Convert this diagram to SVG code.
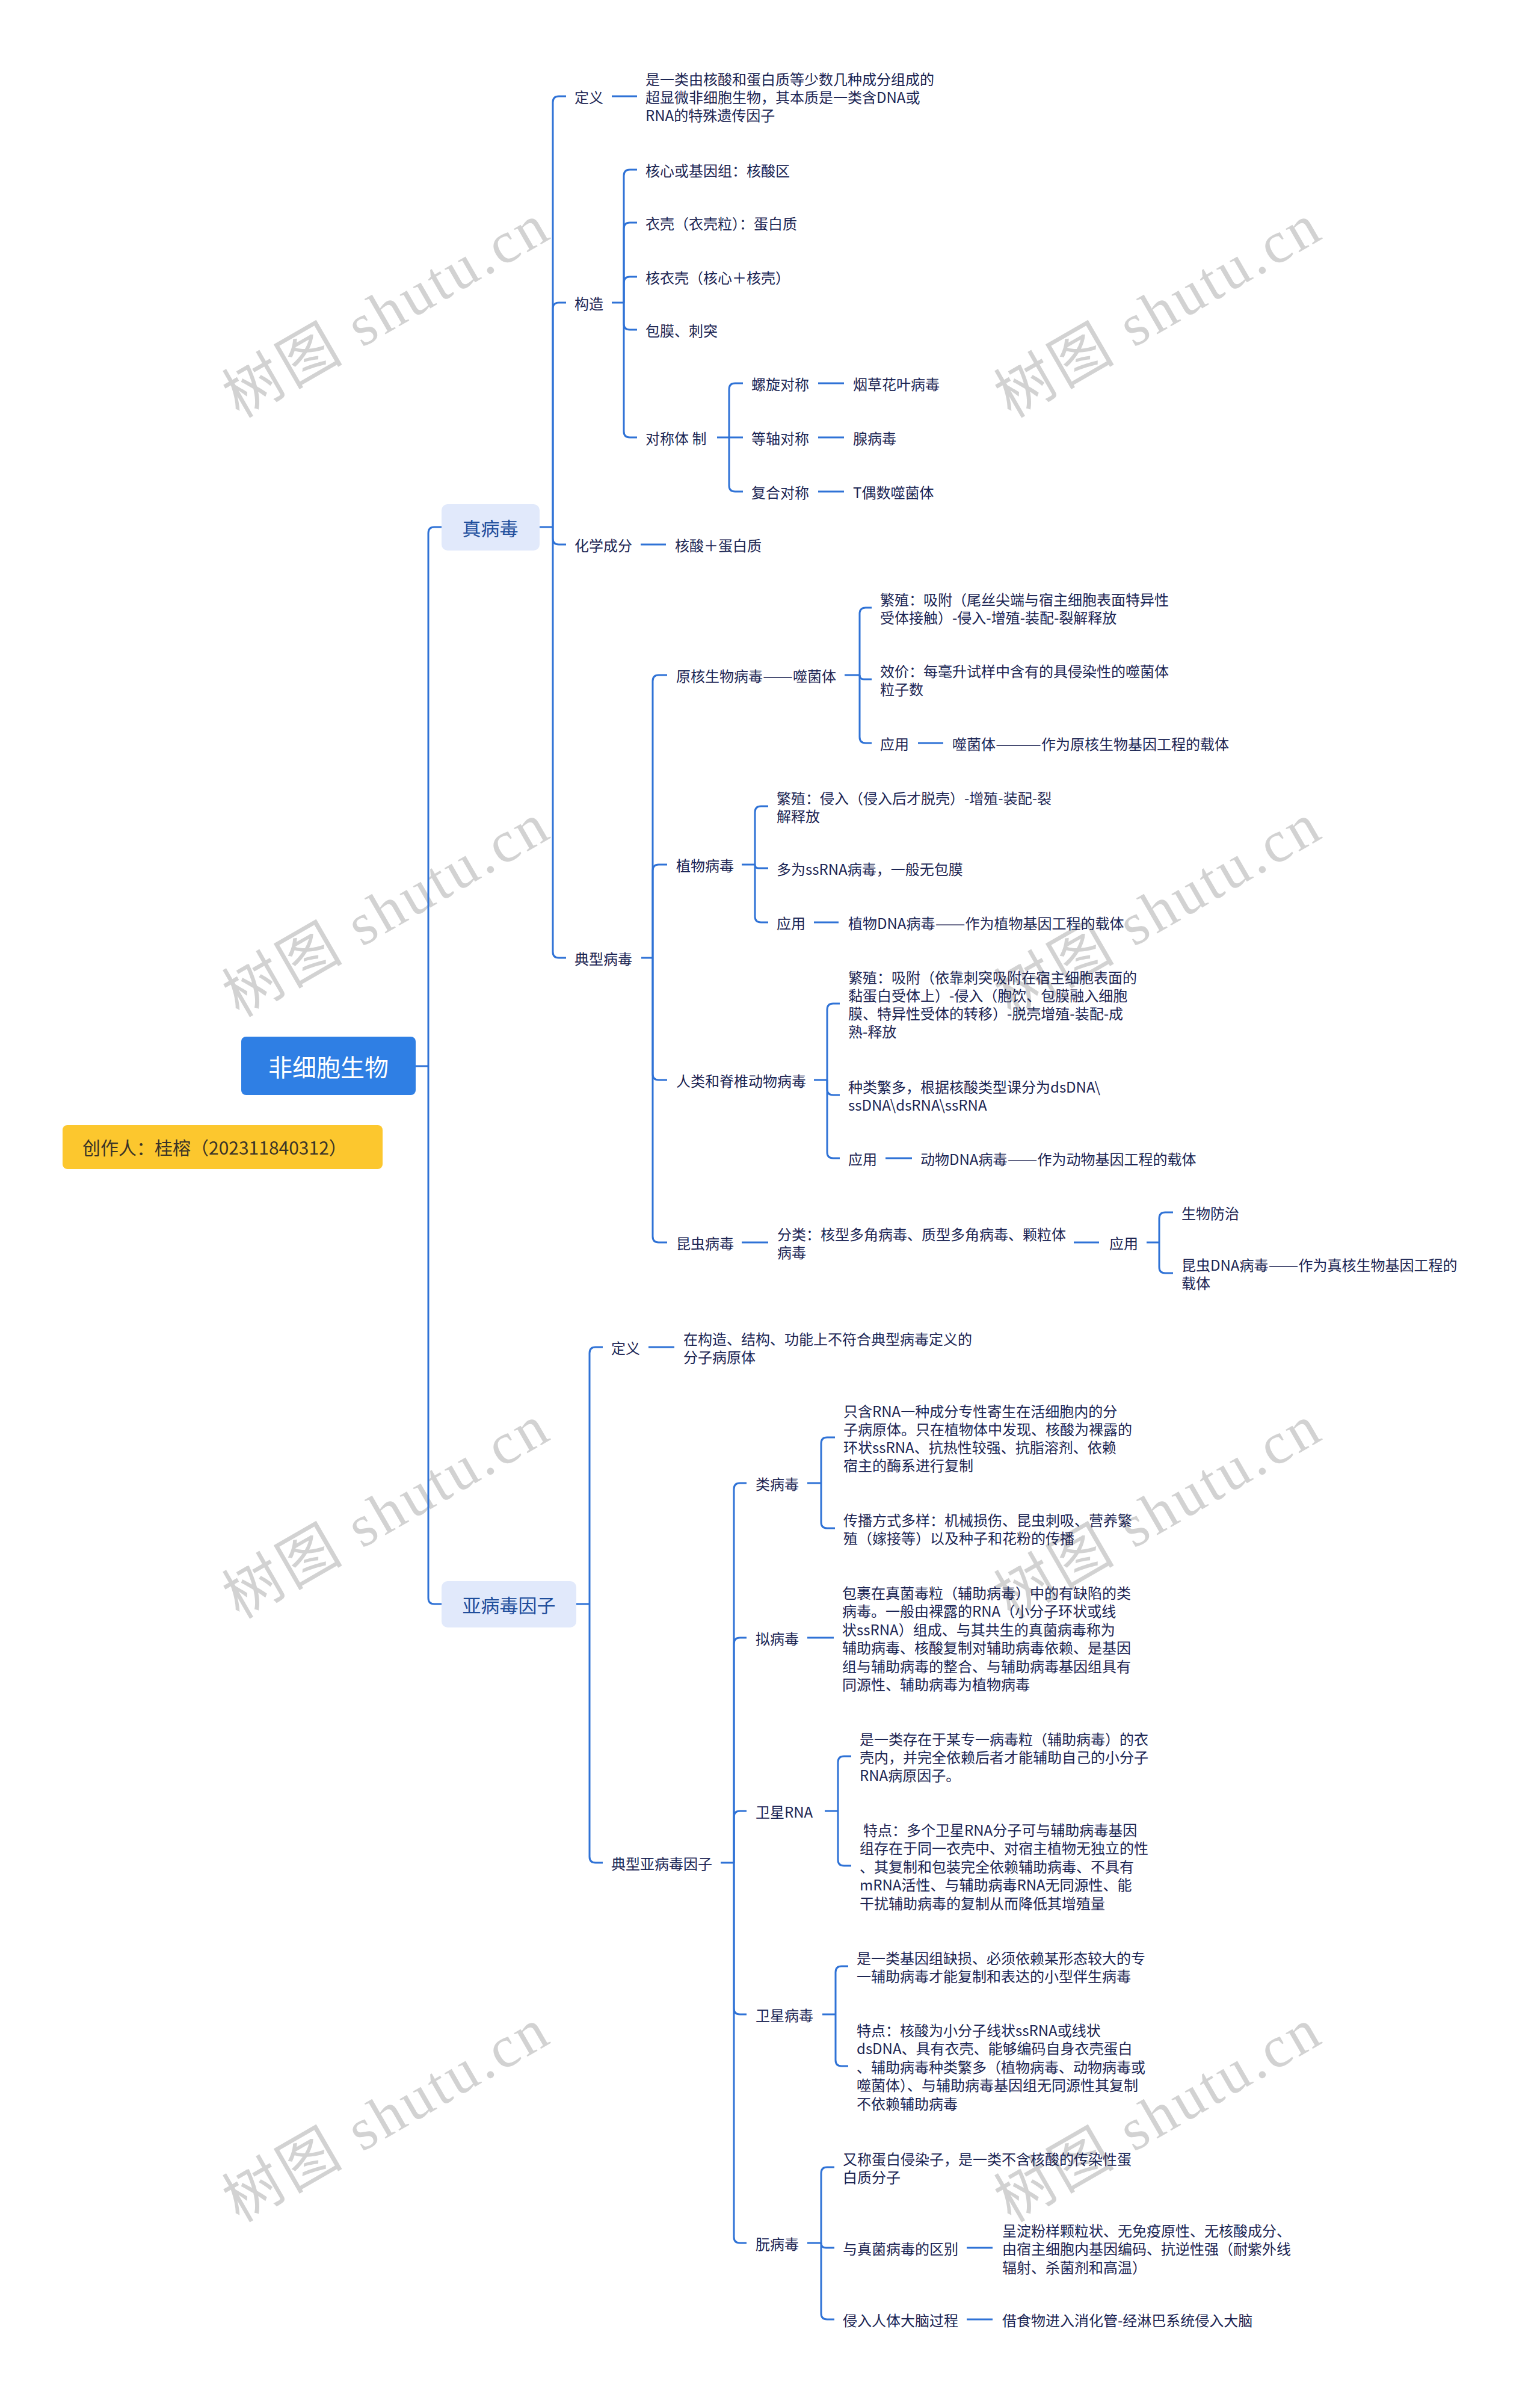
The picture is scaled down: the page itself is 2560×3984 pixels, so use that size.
<svg xmlns="http://www.w3.org/2000/svg" width="2560" height="3984" viewBox="0 0 2560 3984">
<style>
.t{font-family:"Noto Sans CJK SC","Noto Sans",sans-serif;font-size:24px;fill:#1b2553;dominant-baseline:central}
.c{fill:none;stroke:#2f72d6;stroke-width:3}
.wm{font-family:"Liberation Serif","Noto Sans CJK SC",serif;font-size:98px;fill:#d2d2d2;letter-spacing:5px;text-anchor:middle;dominant-baseline:central}
.l1{fill:#e1e9fb}
.l1t{font-family:"Noto Sans CJK SC",sans-serif;font-size:31px;fill:#1f4e9c;text-anchor:middle;dominant-baseline:central}
</style>
<rect width="2560" height="3984" fill="#ffffff"/>
<g id="watermarks">
<text class="wm" x="643" y="516" transform="rotate(-30 643 516)">树图 shutu.cn</text>
<text class="wm" x="1926" y="516" transform="rotate(-30 1926 516)">树图 shutu.cn</text>
<text class="wm" x="643" y="1512" transform="rotate(-30 643 1512)">树图 shutu.cn</text>
<text class="wm" x="1926" y="1512" transform="rotate(-30 1926 1512)">树图 shutu.cn</text>
<text class="wm" x="643" y="2512" transform="rotate(-30 643 2512)">树图 shutu.cn</text>
<text class="wm" x="1926" y="2512" transform="rotate(-30 1926 2512)">树图 shutu.cn</text>
<text class="wm" x="643" y="3515" transform="rotate(-30 643 3515)">树图 shutu.cn</text>
<text class="wm" x="1926" y="3515" transform="rotate(-30 1926 3515)">树图 shutu.cn</text>
</g>
<g id="connectors" class="c">
<path d="M691,1772H712"/>
<path d="M712,1772V886Q712,876 722,876H734"/>
<path d="M712,1772V2656Q712,2666 722,2666H734"/>
<path d="M897,876H919"/>
<path d="M919,876V170Q919,160 929,160H941"/>
<path d="M919,876V513Q919,503 929,503H941"/>
<path d="M919,876V895Q919,905 929,905H941"/>
<path d="M919,876V1582Q919,1592 929,1592H941"/>
<path d="M1017,160H1059"/>
<path d="M1017,503H1037"/>
<path d="M1037,503V292Q1037,282 1047,282H1059"/>
<path d="M1037,503V380Q1037,370 1047,370H1059"/>
<path d="M1037,503V470Q1037,460 1047,460H1059"/>
<path d="M1037,503V538Q1037,548 1047,548H1059"/>
<path d="M1037,503V717Q1037,727 1047,727H1059"/>
<path d="M1192,727H1212"/>
<path d="M1212,727V647Q1212,637 1222,637H1235"/>
<path d="M1212,727H1235"/>
<path d="M1212,727V807Q1212,817 1222,817H1235"/>
<path d="M1360,637H1403"/>
<path d="M1360,727H1403"/>
<path d="M1360,817H1403"/>
<path d="M1065,905H1107"/>
<path d="M1066,1592H1085"/>
<path d="M1085,1592V1132Q1085,1122 1095,1122H1109"/>
<path d="M1085,1592V1447Q1085,1437 1095,1437H1109"/>
<path d="M1085,1592V1785Q1085,1795 1095,1795H1109"/>
<path d="M1085,1592V2055Q1085,2065 1095,2065H1109"/>
<path d="M1404,1122H1429"/>
<path d="M1429,1122V1020Q1429,1010 1439,1010H1449"/>
<path d="M1429,1122Q1429,1129 1436,1129H1449"/>
<path d="M1429,1122V1225Q1429,1235 1439,1235H1449"/>
<path d="M1526,1235H1568"/>
<path d="M1233,1437H1255"/>
<path d="M1255,1437V1350Q1255,1340 1265,1340H1277"/>
<path d="M1255,1437Q1255,1443 1261,1443H1277"/>
<path d="M1255,1437V1523Q1255,1533 1265,1533H1277"/>
<path d="M1353,1533H1394"/>
<path d="M1353,1795H1375"/>
<path d="M1375,1795V1678Q1375,1668 1385,1668H1396"/>
<path d="M1375,1795V1810Q1375,1820 1385,1820H1396"/>
<path d="M1375,1795V1915Q1375,1925 1385,1925H1396"/>
<path d="M1472,1925H1516"/>
<path d="M1233,2065H1277"/>
<path d="M1785,2065H1827"/>
<path d="M1906,2065H1927"/>
<path d="M1927,2065V2025Q1927,2015 1937,2015H1950"/>
<path d="M1927,2065V2106Q1927,2116 1937,2116H1950"/>
<path d="M958,2666H980"/>
<path d="M980,2666V2249Q980,2239 990,2239H1002"/>
<path d="M980,2666V3086Q980,3096 990,3096H1002"/>
<path d="M1078,2239H1121"/>
<path d="M1198,3096H1220"/>
<path d="M1220,3096V2475Q1220,2465 1230,2465H1241"/>
<path d="M1220,3096V2732Q1220,2722 1230,2722H1241"/>
<path d="M1220,3096V3020Q1220,3010 1230,3010H1241"/>
<path d="M1220,3096V3338Q1220,3348 1230,3348H1241"/>
<path d="M1220,3096V3718Q1220,3728 1230,3728H1241"/>
<path d="M1342,2465H1365"/>
<path d="M1365,2465V2399Q1365,2389 1375,2389H1388"/>
<path d="M1365,2465V2530Q1365,2540 1375,2540H1388"/>
<path d="M1342,2722H1386"/>
<path d="M1371,3010H1393"/>
<path d="M1393,3010V2929Q1393,2919 1403,2919H1415"/>
<path d="M1393,3010V3091Q1393,3101 1403,3101H1415"/>
<path d="M1367,3348H1389"/>
<path d="M1389,3348V3278Q1389,3268 1399,3268H1410"/>
<path d="M1389,3348V3424Q1389,3434 1399,3434H1410"/>
<path d="M1342,3728H1365"/>
<path d="M1365,3728V3612Q1365,3602 1375,3602H1387"/>
<path d="M1365,3728Q1365,3736 1373,3736H1387"/>
<path d="M1365,3728V3845Q1365,3855 1375,3855H1387"/>
<path d="M1607,3736H1650"/>
<path d="M1607,3855H1650"/>
</g>
<g id="n-root"><rect x="401" y="1723" width="290" height="97" rx="8" fill="#2f7fe4"/><text x="546" y="1772" font-family="'Noto Sans CJK SC',sans-serif" font-size="40" fill="#ffffff" text-anchor="middle" dominant-baseline="central">非细胞生物</text></g>
<g id="n-creator"><rect x="104" y="1870" width="532" height="73" rx="8" fill="#fcc72e"/><text x="137" y="1906" font-family="'Noto Sans CJK SC',sans-serif" font-size="30" fill="#3a3327" dominant-baseline="central">创作人：桂榕（202311840312）</text></g>
<g id="n-zbd"><rect class="l1" x="734" y="838" width="163" height="77" rx="10"/><text class="l1t" x="815" y="876">真病毒</text></g>
<g id="n-ybd"><rect class="l1" x="734" y="2628" width="224" height="77" rx="10"/><text class="l1t" x="846" y="2666">亚病毒因子</text></g>
<g id="n-dy1"><text class="t" x="955" y="160">定义</text></g>
<g id="n-dy1c"><text class="t"><tspan x="1073" y="130">是一类由核酸和蛋白质等少数几种成分组成的</tspan><tspan x="1073" y="160">超显微非细胞生物，其本质是一类含DNA或</tspan><tspan x="1073" y="190">RNA的特殊遗传因子</tspan></text></g>
<g id="n-gz"><text class="t" x="955" y="503">构造</text></g>
<g id="n-gz1"><text class="t" x="1073" y="282">核心或基因组：核酸区</text></g>
<g id="n-gz2"><text class="t" x="1073" y="370">衣壳（衣壳粒）：蛋白质</text></g>
<g id="n-gz3"><text class="t" x="1073" y="460">核衣壳（核心＋核壳）</text></g>
<g id="n-gz4"><text class="t" x="1073" y="548">包膜、刺突</text></g>
<g id="n-dc"><text class="t" x="1073" y="727">对称体 制</text></g>
<g id="n-dc1"><text class="t" x="1249" y="637">螺旋对称</text></g>
<g id="n-dc1c"><text class="t" x="1418" y="637">烟草花叶病毒</text></g>
<g id="n-dc2"><text class="t" x="1249" y="727">等轴对称</text></g>
<g id="n-dc2c"><text class="t" x="1418" y="727">腺病毒</text></g>
<g id="n-dc3"><text class="t" x="1249" y="817">复合对称</text></g>
<g id="n-dc3c"><text class="t" x="1418" y="817">T偶数噬菌体</text></g>
<g id="n-hx"><text class="t" x="955" y="905">化学成分</text></g>
<g id="n-hxc"><text class="t" x="1122" y="905">核酸＋蛋白质</text></g>
<g id="n-dx"><text class="t" x="955" y="1592">典型病毒</text></g>
<g id="n-yh"><text class="t" x="1124" y="1122">原核生物病毒<tspan textLength="50" lengthAdjust="spacingAndGlyphs">——</tspan>噬菌体</text></g>
<g id="n-yh1"><text class="t"><tspan x="1463" y="995">繁殖：吸附（尾丝尖端与宿主细胞表面特异性</tspan><tspan x="1463" y="1025">受体接触）-侵入-增殖-装配-裂解释放</tspan></text></g>
<g id="n-yh2"><text class="t"><tspan x="1463" y="1114">效价：每毫升试样中含有的具侵染性的噬菌体</tspan><tspan x="1463" y="1144">粒子数</tspan></text></g>
<g id="n-yh3"><text class="t" x="1463" y="1235">应用</text></g>
<g id="n-yh3c"><text class="t" x="1583" y="1235">噬菌体<tspan textLength="76" lengthAdjust="spacingAndGlyphs">———</tspan>作为原核生物基因工程的载体</text></g>
<g id="n-zw"><text class="t" x="1124" y="1437">植物病毒</text></g>
<g id="n-zw1"><text class="t"><tspan x="1291" y="1325">繁殖：侵入（侵入后才脱壳）-增殖-装配-裂</tspan><tspan x="1291" y="1355">解释放</tspan></text></g>
<g id="n-zw2"><text class="t" x="1291" y="1443">多为ssRNA病毒，一般无包膜</text></g>
<g id="n-zw3"><text class="t" x="1291" y="1533">应用</text></g>
<g id="n-zw3c"><text class="t" x="1410" y="1533">植物DNA病毒<tspan textLength="50" lengthAdjust="spacingAndGlyphs">——</tspan>作为植物基因工程的载体</text></g>
<g id="n-rl"><text class="t" x="1124" y="1795">人类和脊椎动物病毒</text></g>
<g id="n-rl1"><text class="t"><tspan x="1410" y="1623">繁殖：吸附（依靠刺突吸附在宿主细胞表面的</tspan><tspan x="1410" y="1653">黏蛋白受体上）-侵入（胞饮、包膜融入细胞</tspan><tspan x="1410" y="1683">膜、特异性受体的转移）-脱壳增殖-装配-成</tspan><tspan x="1410" y="1713">熟-释放</tspan></text></g>
<g id="n-rl2"><text class="t"><tspan x="1410" y="1805">种类繁多，根据核酸类型课分为dsDNA\</tspan><tspan x="1410" y="1835">ssDNA\dsRNA\ssRNA</tspan></text></g>
<g id="n-rl3"><text class="t" x="1410" y="1925">应用</text></g>
<g id="n-rl3c"><text class="t" x="1530" y="1925">动物DNA病毒<tspan textLength="50" lengthAdjust="spacingAndGlyphs">——</tspan>作为动物基因工程的载体</text></g>
<g id="n-kc"><text class="t" x="1124" y="2065">昆虫病毒</text></g>
<g id="n-kc1"><text class="t"><tspan x="1292" y="2050">分类：核型多角病毒、质型多角病毒、颗粒体</tspan><tspan x="1292" y="2080">病毒</tspan></text></g>
<g id="n-kc2"><text class="t" x="1844" y="2065">应用</text></g>
<g id="n-kc2a"><text class="t" x="1964" y="2015">生物防治</text></g>
<g id="n-kc2b"><text class="t"><tspan x="1964" y="2101">昆虫DNA病毒<tspan textLength="50" lengthAdjust="spacingAndGlyphs">——</tspan>作为真核生物基因工程的</tspan><tspan x="1964" y="2131">载体</tspan></text></g>
<g id="n-dy2"><text class="t" x="1016" y="2239">定义</text></g>
<g id="n-dy2c"><text class="t"><tspan x="1136" y="2224">在构造、结构、功能上不符合典型病毒定义的</tspan><tspan x="1136" y="2254">分子病原体</tspan></text></g>
<g id="n-dxy"><text class="t" x="1016" y="3096">典型亚病毒因子</text></g>
<g id="n-lbd"><text class="t" x="1256" y="2465">类病毒</text></g>
<g id="n-lbd1"><text class="t"><tspan x="1402" y="2344">只含RNA一种成分专性寄生在活细胞内的分</tspan><tspan x="1402" y="2374">子病原体。只在植物体中发现、核酸为裸露的</tspan><tspan x="1402" y="2404">环状ssRNA、抗热性较强、抗脂溶剂、依赖</tspan><tspan x="1402" y="2434">宿主的酶系进行复制</tspan></text></g>
<g id="n-lbd2"><text class="t"><tspan x="1402" y="2525">传播方式多样：机械损伤、昆虫刺吸、营养繁</tspan><tspan x="1402" y="2555">殖（嫁接等）以及种子和花粉的传播</tspan></text></g>
<g id="n-nbd"><text class="t" x="1256" y="2722">拟病毒</text></g>
<g id="n-nbd1"><text class="t"><tspan x="1400" y="2646">包裹在真菌毒粒（辅助病毒）中的有缺陷的类</tspan><tspan x="1400" y="2676">病毒。一般由裸露的RNA（小分子环状或线</tspan><tspan x="1400" y="2707">状ssRNA）组成、与其共生的真菌病毒称为</tspan><tspan x="1400" y="2737">辅助病毒、核酸复制对辅助病毒依赖、是基因</tspan><tspan x="1400" y="2768">组与辅助病毒的整合、与辅助病毒基因组具有</tspan><tspan x="1400" y="2798">同源性、辅助病毒为植物病毒</tspan></text></g>
<g id="n-wxr"><text class="t" x="1256" y="3010">卫星RNA</text></g>
<g id="n-wxr1"><text class="t"><tspan x="1429" y="2889">是一类存在于某专一病毒粒（辅助病毒）的衣</tspan><tspan x="1429" y="2919">壳内，并完全依赖后者才能辅助自己的小分子</tspan><tspan x="1429" y="2949">RNA病原因子。</tspan></text></g>
<g id="n-wxr2"><text class="t"><tspan x="1435" y="3040">特点：多个卫星RNA分子可与辅助病毒基因</tspan><tspan x="1429" y="3070">组存在于同一衣壳中、对宿主植物无独立的性</tspan><tspan x="1429" y="3101">、其复制和包装完全依赖辅助病毒、不具有</tspan><tspan x="1429" y="3131">mRNA活性、与辅助病毒RNA无同源性、能</tspan><tspan x="1429" y="3162">干扰辅助病毒的复制从而降低其增殖量</tspan></text></g>
<g id="n-wxb"><text class="t" x="1256" y="3348">卫星病毒</text></g>
<g id="n-wxb1"><text class="t"><tspan x="1424" y="3253">是一类基因组缺损、必须依赖某形态较大的专</tspan><tspan x="1424" y="3283">一辅助病毒才能复制和表达的小型伴生病毒</tspan></text></g>
<g id="n-wxb2"><text class="t"><tspan x="1424" y="3373">特点：核酸为小分子线状ssRNA或线状</tspan><tspan x="1424" y="3403">dsDNA、具有衣壳、能够编码自身衣壳蛋白</tspan><tspan x="1424" y="3434">、辅助病毒种类繁多（植物病毒、动物病毒或</tspan><tspan x="1424" y="3464">噬菌体）、与辅助病毒基因组无同源性其复制</tspan><tspan x="1424" y="3495">不依赖辅助病毒</tspan></text></g>
<g id="n-rbd"><text class="t" x="1256" y="3728">朊病毒</text></g>
<g id="n-rbd1"><text class="t"><tspan x="1401" y="3587">又称蛋白侵染子，是一类不含核酸的传染性蛋</tspan><tspan x="1401" y="3617">白质分子</tspan></text></g>
<g id="n-rbd2"><text class="t" x="1401" y="3736">与真菌病毒的区别</text></g>
<g id="n-rbd2c"><text class="t"><tspan x="1666" y="3706">呈淀粉样颗粒状、无免疫原性、无核酸成分、</tspan><tspan x="1666" y="3736">由宿主细胞内基因编码、抗逆性强（耐紫外线</tspan><tspan x="1666" y="3767">辐射、杀菌剂和高温）</tspan></text></g>
<g id="n-rbd3"><text class="t" x="1401" y="3855">侵入人体大脑过程</text></g>
<g id="n-rbd3c"><text class="t" x="1666" y="3855">借食物进入消化管-经淋巴系统侵入大脑</text></g>
</svg>
